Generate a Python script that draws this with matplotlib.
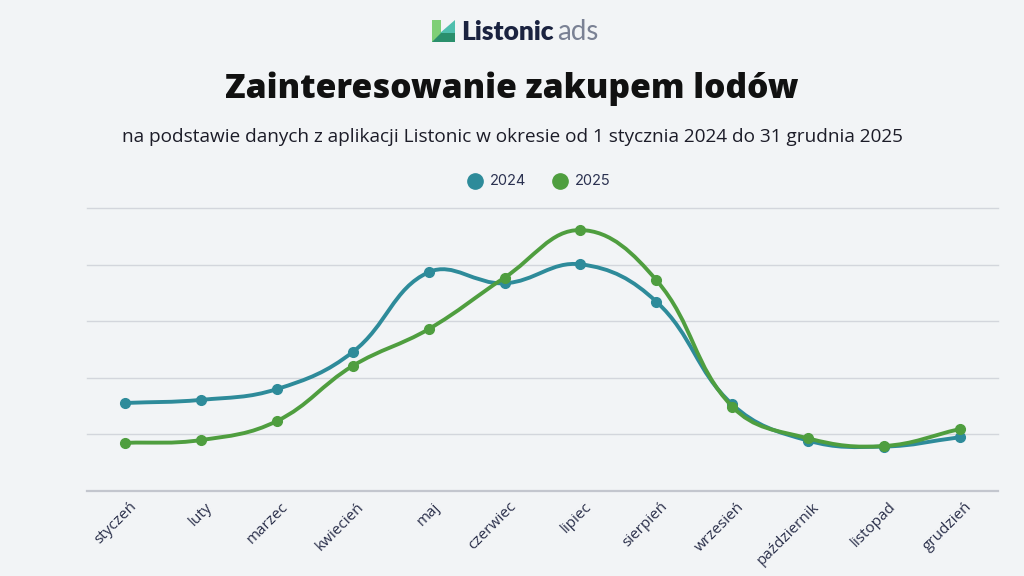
import matplotlib
matplotlib.use('Agg')
import matplotlib.pyplot as plt
import numpy as np
from matplotlib.path import Path
from matplotlib.patches import PathPatch, Polygon, Rectangle
from matplotlib.lines import Line2D
import matplotlib.transforms as mtransforms

months = ['styczeń', 'luty', 'marzec', 'kwiecień', 'maj', 'czerwiec', 'lipiec',
          'sierpień', 'wrzesień', 'październik', 'listopad', 'grudzień']
v2024 = [31.1, 32.2, 36.0, 49.1, 77.3, 73.4, 80.1, 66.9, 30.6, 17.8, 15.7, 19.0]
v2025 = [17.0, 18.0, 24.7, 44.2, 57.2, 75.4, 92.2, 74.5, 29.8, 18.6, 15.9, 21.9]
series_labels = ['2024', '2025']
title = 'Zainteresowanie zakupem lodów'
subtitle = 'na podstawie danych z aplikacji Listonic w okresie od 1 stycznia 2024 do 31 grudnia 2025'

BG = '#f2f4f6'
C24 = '#2e8b9a'
C25 = '#4f9e3f'
GRID = '#d3d6dc'
TXT = '#2a2f4a'

W, H = 1024, 576
fig = plt.figure(figsize=(10.24, 5.76), dpi=100, facecolor=BG)


def fx(px):
    return px / W


def fy(py):
    return 1 - py / H


# ---- logo ----
logo_ax = fig.add_axes([0, 0, 1, 1], facecolor='none')
logo_ax.set_xlim(0, W)
logo_ax.set_ylim(H, 0)
logo_ax.axis('off')
logo_ax.add_patch(Rectangle((432, 20), 9, 22, color='#7fcf76', lw=0))
logo_ax.add_patch(Polygon([(440, 33), (455, 20), (455, 33)], closed=True, color='#4fbfae', lw=0))
logo_ax.add_patch(Polygon([(432, 42), (441, 33), (455, 33), (455, 42)], closed=True, color='#2a8f6c', lw=0))
fig.text(fx(461), fy(32), 'Listonic', fontsize=19, fontweight='heavy', family='Lato',
         color='#1b2340', ha='left', va='center')
fig.text(fx(557), fy(32), 'ads', fontsize=20, family='Lato', color='#7a8194',
         ha='left', va='center')

# ---- titles ----
fig.text(0.5, fy(89), title, fontsize=24.2, fontweight='heavy', family='Open Sans',
         color='#111111', ha='center', va='center')
fig.text(0.5, fy(137), subtitle, fontsize=13.7, family='Open Sans',
         color='#1c1c28', ha='center', va='center')

# ---- legend ----
leg_pos = [(475, 490), (560, 575)]
for (cx, tx), lab, col in zip(leg_pos, series_labels, [C24, C25]):
    fig.add_artist(Line2D([fx(cx)], [fy(181)], marker='o', markersize=11,
                          color=col, linestyle='none', transform=fig.transFigure))
    fig.text(fx(tx), fy(181), lab, fontsize=10.5, family='Inter', color='#2b3150',
             ha='left', va='center')

# ---- chart ----
ax = fig.add_axes([fx(87), fy(491), (998 - 87) / W, (491 - 208) / H])
ax.set_facecolor(BG)
ax.set_xlim(-0.5, 11.5)
ax.set_ylim(0, 100)
for yv in [20, 40, 60, 80, 100]:
    ax.axhline(yv, color=GRID, lw=1.0, zorder=0, clip_on=False)
for s in ['top', 'right', 'left']:
    ax.spines[s].set_visible(False)
ax.spines['bottom'].set_color('#c3c6ce')
ax.spines['bottom'].set_linewidth(1.6)
ax.set_yticks([])
x = np.arange(len(months))
ax.set_xticks(x)
ax.set_xticklabels(months)
ax.tick_params(axis='x', length=0, pad=6, labelsize=11, labelcolor=TXT)
offset = mtransforms.ScaledTranslation(4 / 100, 0, fig.dpi_scale_trans)
for lbl in ax.get_xticklabels():
    lbl.set_rotation(45)
    lbl.set_ha('right')
    lbl.set_va('top')
    lbl.set_rotation_mode('anchor')
    lbl.set_family('Open Sans')
    lbl.set_transform(lbl.get_transform() + offset)


def spline_path(xs, ys, t=0.4, sx=75.9, sy=2.83):
    P = np.column_stack([np.asarray(xs, float) * sx, np.asarray(ys, float) * sy])
    n = len(P)
    cprev, cnext = [], []
    for i in range(n):
        prev = P[max(i - 1, 0)]
        cur = P[i]
        nxt = P[min(i + 1, n - 1)]
        d01 = np.hypot(*(cur - prev))
        d12 = np.hypot(*(nxt - cur))
        tot = d01 + d12
        s01 = d01 / tot if tot else 0
        s12 = d12 / tot if tot else 0
        cprev.append(cur - t * s01 * (nxt - prev))
        cnext.append(cur + t * s12 * (nxt - prev))
    verts = [P[0]]
    codes = [Path.MOVETO]
    for i in range(n - 1):
        verts += [cnext[i], cprev[i + 1], P[i + 1]]
        codes += [Path.CURVE4] * 3
    verts = np.array(verts) / np.array([sx, sy])
    return Path(verts, codes)


for vals, col, z in [(v2024, C24, 3), (v2025, C25, 4)]:
    ax.add_patch(PathPatch(spline_path(x, vals), facecolor='none', edgecolor=col,
                           lw=2.8, zorder=z, capstyle='round', joinstyle='round'))
    ax.plot(x, vals, 'o', color=col, markersize=7, zorder=z + 0.5, clip_on=False)

fig.savefig('out.png', dpi=100, facecolor=BG)
